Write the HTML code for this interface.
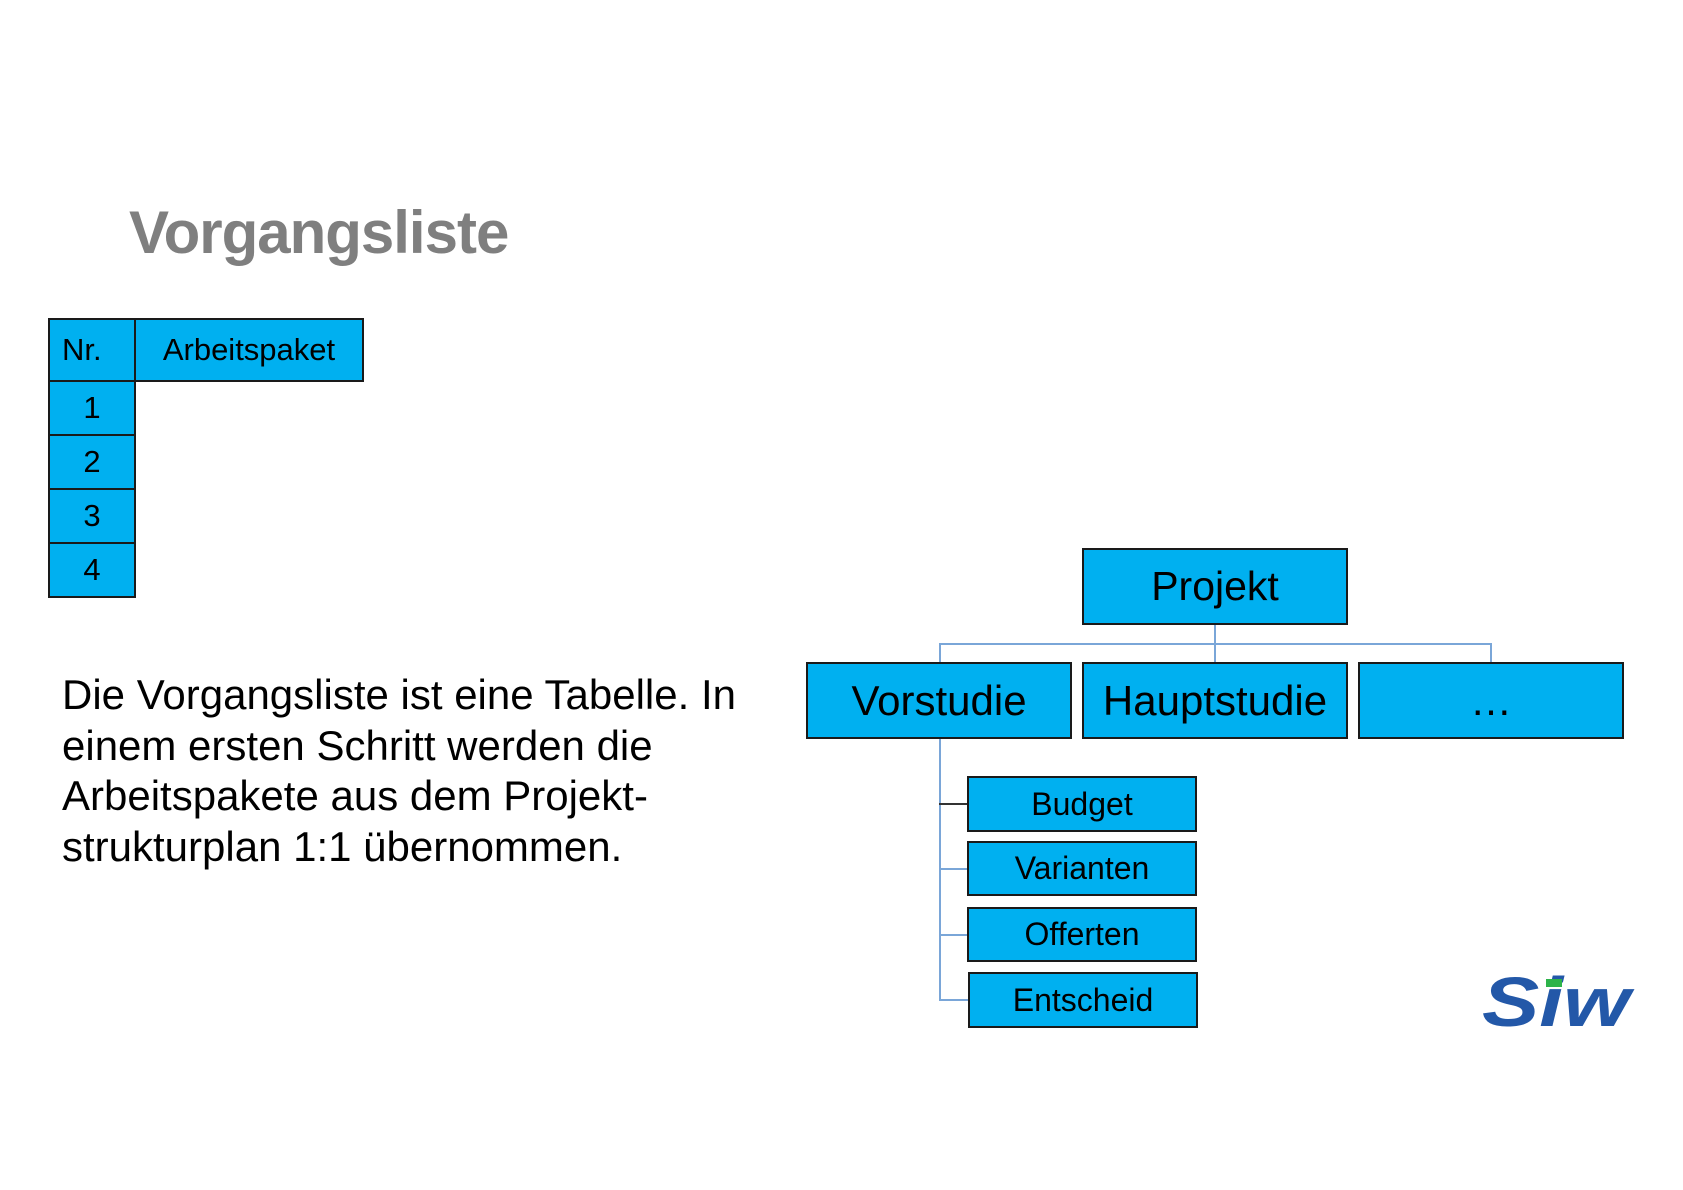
<!DOCTYPE html>
<html><head><meta charset="utf-8"><style>
body{margin:0;width:1683px;height:1190px;background:#fff;position:relative;overflow:hidden;font-family:"Liberation Sans",sans-serif}
.a{position:absolute;box-sizing:border-box}
.b{position:absolute;box-sizing:border-box;background:#00b0f0;border:2px solid #1a1a1a;display:flex;align-items:center;justify-content:center;color:#000}
.l{position:absolute;background:#7aa6d8}
</style></head><body>
<div class="a" style="left:129px;top:198px;font-size:60px;font-weight:bold;color:#7f7f7f;letter-spacing:-1px">Vorgangsliste</div>

<div class="b" style="left:48px;top:318px;width:88px;height:64px;font-size:31px;justify-content:flex-start;padding-left:12px">Nr.</div>
<div class="b" style="left:134px;top:318px;width:230px;height:64px;font-size:31px">Arbeitspaket</div>
<div class="b" style="left:48px;top:380px;width:88px;height:56px;font-size:31px">1</div>
<div class="b" style="left:48px;top:434px;width:88px;height:56px;font-size:31px">2</div>
<div class="b" style="left:48px;top:488px;width:88px;height:56px;font-size:31px">3</div>
<div class="b" style="left:48px;top:542px;width:88px;height:56px;font-size:31px">4</div>

<div class="a" style="left:62px;top:670px;font-size:42px;line-height:50.5px;color:#000;width:800px">Die Vorgangsliste ist eine Tabelle. In<br>einem ersten Schritt werden die<br>Arbeitspakete aus dem Projekt-<br>strukturplan 1:1 übernommen.</div>

<div class="l" style="left:1214px;top:624px;width:2px;height:40px"></div>
<div class="l" style="left:939px;top:643px;width:553px;height:2px"></div>
<div class="l" style="left:939px;top:643px;width:2px;height:20px"></div>
<div class="l" style="left:1490px;top:643px;width:2px;height:20px"></div>
<div class="l" style="left:939px;top:736px;width:2px;height:264px"></div>
<div class="a" style="left:939px;top:803px;width:29px;height:2px;background:#333"></div>
<div class="l" style="left:939px;top:868px;width:29px;height:2px"></div>
<div class="l" style="left:939px;top:934px;width:29px;height:2px"></div>
<div class="l" style="left:939px;top:999px;width:30px;height:2px"></div>

<div class="b" style="left:1082px;top:548px;width:266px;height:77px;font-size:41px">Projekt</div>
<div class="b" style="left:806px;top:662px;width:266px;height:77px;font-size:42px">Vorstudie</div>
<div class="b" style="left:1082px;top:662px;width:266px;height:77px;font-size:42px">Hauptstudie</div>
<div class="b" style="left:1358px;top:662px;width:266px;height:77px;font-size:42px">…</div>

<div class="b" style="left:967px;top:776px;width:230px;height:56px;font-size:32px">Budget</div>
<div class="b" style="left:967px;top:841px;width:230px;height:55px;font-size:32px">Varianten</div>
<div class="b" style="left:967px;top:907px;width:230px;height:55px;font-size:32px">Offerten</div>
<div class="b" style="left:968px;top:972px;width:230px;height:56px;font-size:32px">Entscheid</div>

<svg class="a" style="left:1470px;top:965px" width="170" height="70">
<text x="12" y="61" font-family="Liberation Sans" font-weight="bold" font-style="italic" font-size="70" fill="#2358a8" textLength="148" lengthAdjust="spacingAndGlyphs">Siw</text>
<rect x="76" y="14" width="16" height="8" fill="#2db34a"/>
</svg>
</body></html>
